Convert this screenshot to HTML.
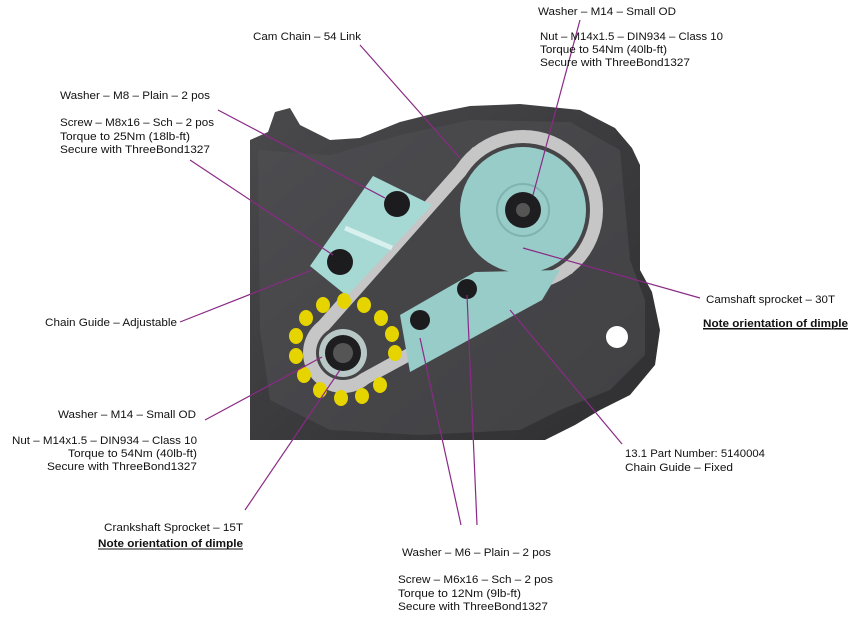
<!DOCTYPE html>
<html><head><meta charset="utf-8"><style>
html,body{margin:0;padding:0;background:#fff;}
svg{display:block;}
text{font-family:"Liberation Sans",Arial,sans-serif;font-size:11px;fill:#111;}
</style></head><body>
<svg width="865" height="624" viewBox="0 0 865 624" xmlns="http://www.w3.org/2000/svg">
<defs>
<linearGradient id="hg" x1="0" y1="0" x2="1" y2="1">
<stop offset="0" stop-color="#4a4a4d"/><stop offset="0.5" stop-color="#3b3b3e"/><stop offset="1" stop-color="#2f2f31"/>
</linearGradient>
</defs>
<!-- housing -->
<path d="M250,140 L268,132 L275,112 L290,108 L300,125 L330,140 L360,138 L400,122 L440,112 L470,106 L520,104 L580,110 L615,128 L632,148 L640,165 L640,270 L652,292 L660,330 L655,365 L630,395 L600,410 L575,425 L545,440 L250,440 Z" fill="url(#hg)"/>
<path d="M258,150 L330,155 L400,135 L470,120 L570,122 L620,150 L630,260 L645,300 L645,355 L610,390 L560,410 L520,430 L420,435 L330,430 L270,400 L260,330 Z" fill="#505054" opacity="0.55"/>
<circle cx="617" cy="337" r="11" fill="#fff"/>
<!-- chain loop -->
<circle cx="523" cy="210" r="80" fill="#c6c6c6"/>
<circle cx="343" cy="353" r="40" fill="#c6c6c6"/>
<polygon points="573,273 473,147 318,322 368,384" fill="#c6c6c6"/>
<circle cx="523" cy="210" r="67" fill="#454548"/>
<circle cx="343" cy="353" r="27" fill="#454548"/>
<polygon points="565,262 481,158 326,333 360,374" fill="#454548"/>
<circle cx="523" cy="210" r="63" fill="#98ccc8"/>
<!-- fixed guide -->
<polygon points="400,315 475,272 560,270 542,300 410,372" fill="#98ccc8"/>
<circle cx="420" cy="320" r="10" fill="#1c1c1e"/>
<circle cx="467" cy="289" r="10" fill="#1c1c1e"/>
<!-- cam nut -->
<circle cx="523" cy="210" r="26" fill="none" stroke="#7fb3b0" stroke-width="2"/>
<circle cx="523" cy="210" r="18" fill="#1e1e20"/>
<circle cx="523" cy="210" r="7" fill="#555"/>
<!-- adjustable guide -->
<polygon points="373,176 432,205 347,296 310,266" fill="#a6d8d4"/>
<line x1="345" y1="228" x2="392" y2="248" stroke="#d8f0ee" stroke-width="5"/>
<circle cx="397" cy="204" r="13" fill="#1c1c1e"/>
<circle cx="340" cy="262" r="13" fill="#1c1c1e"/>
<!-- yellow dots -->
<g fill="#e6d400">
<ellipse cx="395" cy="353" rx="7" ry="8"/><ellipse cx="392" cy="334" rx="7" ry="8"/><ellipse cx="381" cy="318" rx="7" ry="8"/>
<ellipse cx="364" cy="305" rx="7" ry="8"/><ellipse cx="344" cy="301" rx="7" ry="8"/><ellipse cx="323" cy="305" rx="7" ry="8"/>
<ellipse cx="306" cy="318" rx="7" ry="8"/><ellipse cx="296" cy="336" rx="7" ry="8"/><ellipse cx="296" cy="356" rx="7" ry="8"/>
<ellipse cx="304" cy="375" rx="7" ry="8"/><ellipse cx="320" cy="390" rx="7" ry="8"/><ellipse cx="341" cy="398" rx="7" ry="8"/>
<ellipse cx="362" cy="396" rx="7" ry="8"/><ellipse cx="380" cy="385" rx="7" ry="8"/>
</g>
<circle cx="343" cy="353" r="24" fill="#b8c8c6"/>
<circle cx="343" cy="353" r="18" fill="#1e1e20"/>
<circle cx="343" cy="353" r="10" fill="#555"/>
<!-- leader lines -->
<g stroke="#8a2a86" stroke-width="1.2">
<line x1="360" y1="45" x2="460" y2="158"/>
<line x1="580" y1="20" x2="533" y2="195"/>
<line x1="218" y1="110" x2="385" y2="198"/>
<line x1="190" y1="160" x2="333" y2="255"/>
<line x1="180" y1="322" x2="312" y2="270"/>
<line x1="700" y1="298" x2="523" y2="248"/>
<line x1="205" y1="420" x2="322" y2="357"/>
<line x1="245" y1="510" x2="340" y2="370"/>
<line x1="622" y1="444" x2="510" y2="310"/>
<line x1="461" y1="525" x2="420" y2="338"/>
<line x1="477" y1="525" x2="467" y2="295"/>
</g>
<!-- labels -->
<text x="538" y="15" textLength="138" lengthAdjust="spacingAndGlyphs">Washer – M14 – Small OD</text>
<text x="540" y="40" textLength="183" lengthAdjust="spacingAndGlyphs">Nut – M14x1.5 – DIN934 – Class 10</text>
<text x="540" y="53" textLength="127" lengthAdjust="spacingAndGlyphs">Torque to 54Nm (40lb-ft)</text>
<text x="540" y="66" textLength="150" lengthAdjust="spacingAndGlyphs">Secure with ThreeBond1327</text>
<text x="253" y="40" textLength="108" lengthAdjust="spacingAndGlyphs">Cam Chain – 54 Link</text>
<text x="60" y="99" textLength="150" lengthAdjust="spacingAndGlyphs">Washer – M8 – Plain – 2 pos</text>
<text x="60" y="126" textLength="154" lengthAdjust="spacingAndGlyphs">Screw – M8x16 – Sch – 2 pos</text>
<text x="60" y="140" textLength="130" lengthAdjust="spacingAndGlyphs">Torque to 25Nm (18lb-ft)</text>
<text x="60" y="153" textLength="150" lengthAdjust="spacingAndGlyphs">Secure with ThreeBond1327</text>
<text x="45" y="326" textLength="132" lengthAdjust="spacingAndGlyphs">Chain Guide – Adjustable</text>
<text x="706" y="303" textLength="129" lengthAdjust="spacingAndGlyphs">Camshaft sprocket – 30T</text>
<text x="703" y="327" textLength="145" lengthAdjust="spacingAndGlyphs" font-weight="bold" text-decoration="underline">Note orientation of dimple</text>
<line x1="703" y1="329" x2="848" y2="329" stroke="#111" stroke-width="1"/>
<text x="58" y="418" textLength="138" lengthAdjust="spacingAndGlyphs">Washer – M14 – Small OD</text>
<text x="12" y="444" textLength="185" lengthAdjust="spacingAndGlyphs">Nut – M14x1.5 – DIN934 – Class 10</text>
<text x="68" y="457" textLength="129" lengthAdjust="spacingAndGlyphs">Torque to 54Nm (40lb-ft)</text>
<text x="47" y="470" textLength="150" lengthAdjust="spacingAndGlyphs">Secure with ThreeBond1327</text>
<text x="104" y="531" textLength="139" lengthAdjust="spacingAndGlyphs">Crankshaft Sprocket – 15T</text>
<text x="98" y="547" textLength="145" lengthAdjust="spacingAndGlyphs" font-weight="bold">Note orientation of dimple</text>
<line x1="98" y1="549" x2="243" y2="549" stroke="#111" stroke-width="1"/>
<text x="625" y="457" textLength="140" lengthAdjust="spacingAndGlyphs">13.1 Part Number: 5140004</text>
<text x="625" y="471" textLength="108" lengthAdjust="spacingAndGlyphs">Chain Guide – Fixed</text>
<text x="402" y="556" textLength="149" lengthAdjust="spacingAndGlyphs">Washer – M6 – Plain – 2 pos</text>
<text x="398" y="583" textLength="155" lengthAdjust="spacingAndGlyphs">Screw – M6x16 – Sch – 2 pos</text>
<text x="398" y="597" textLength="123" lengthAdjust="spacingAndGlyphs">Torque to 12Nm (9lb-ft)</text>
<text x="398" y="610" textLength="150" lengthAdjust="spacingAndGlyphs">Secure with ThreeBond1327</text>
</svg>
</body></html>
